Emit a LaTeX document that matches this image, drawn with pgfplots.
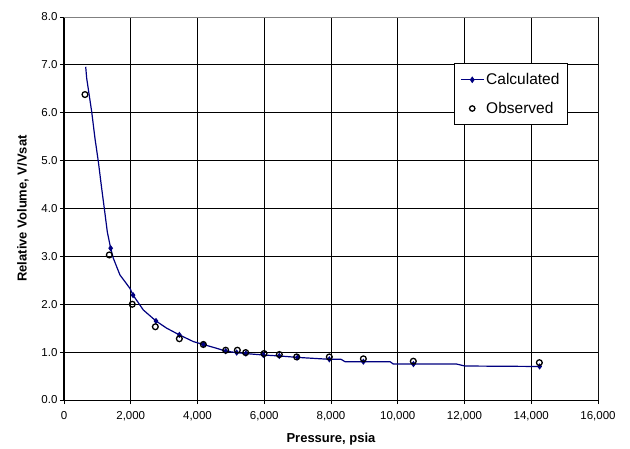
\documentclass[border=0pt]{standalone}
\usepackage{fontspec}
\setmainfont{Liberation Sans}
\usepackage{pgfplots}
\pgfplotsset{compat=1.18}
\definecolor{calcblue}{RGB}{0,0,128}

\begin{document}
\begin{tikzpicture}
\path[use as bounding box] (-64pt,-48pt) rectangle (566pt,400pt);
\begin{axis}[
  at={(0,0)}, anchor=south west,
  scale only axis, width=534pt, height=383pt,
  xmin=0, xmax=16000, ymin=0, ymax=8,
  xtick={0,2000,...,16000}, ytick={0,1,...,8},
  axis lines*=left,
  axis line style={black, line width=1pt},
  grid=major, major grid style={black, line width=0.9pt},
  tick align=outside, major tick length=4pt,
  tick style={black, line width=0.9pt},
  /pgf/number format/assume math mode=true,
  scaled x ticks=false,
  x tick label style={/pgf/number format/fixed, /pgf/number format/1000 sep={,}, yshift=-4pt},
  y tick label style={/pgf/number format/fixed, /pgf/number format/fixed zerofill,
    /pgf/number format/precision=1, xshift=1pt},
  tick label style={font=\fontsize{11.5}{13}\selectfont},
  xlabel={\bfseries Pressure, psia},
  ylabel={\bfseries Relative Volume, V/Vsat},
  label style={font=\fontsize{13}{15}\selectfont},
  xlabel style={yshift=-5pt},
  ylabel style={yshift=6pt},
  legend style={at={(0.730,0.880)}, anchor=north west, draw=black, line width=0.9pt,
    font=\fontsize{15.5}{18}\selectfont, row sep=12pt, inner xsep=6pt, inner ysep=8pt},
  legend cell align=left,
]
\addplot[calcblue, line width=1.2pt, mark=diamond*, mark size=2.2pt,
  mark options={solid, fill=calcblue},
  mark indices={9,13,15,17,19,21,22,23,24,25,26,27,30,33,36},
  legend image code/.code={
    \draw[calcblue, line width=1.2pt] (0cm,0cm) -- (0.8cm,0cm);
    \fill[calcblue] (0.4cm,2.4pt) -- (0.4cm+1.7pt,0cm) -- (0.4cm,-2.4pt) -- (0.4cm-1.7pt,0cm) -- cycle;}]
  coordinates {
  (650,6.96)(680,6.72)(830,6.02)(929,5.46)(1029,4.98)(1129,4.42)(1208,4.00)
  (1298,3.51)(1398,3.17)(1478,2.96)(1678,2.61)(1978,2.33)(2070,2.19)(2377,1.88)
  (2757,1.65)(3077,1.50)(3457,1.36)(3876,1.22)(4175,1.16)(4575,1.08)(4844,1.02)
  (5174,0.99)(5450,0.97)(5973,0.94)(6450,0.92)(7000,0.89)(7950,0.85)(8300,0.85)
  (8420,0.80)(8970,0.80)(9770,0.80)(9870,0.75)(10470,0.75)(11770,0.75)(12010,0.71)
  (14250,0.70)};
\addlegendentry{Calculated}

\addplot[only marks, mark=o, mark size=2.9pt,
  mark options={black, line width=1.3pt, fill=white},
  legend image code/.code={
    \draw[black, line width=1.3pt, fill=white] (0.4cm,0cm) circle (2.7pt);}]
  coordinates {
  (629,6.38)(1358,3.03)(2045,2.00)(2737,1.53)(3456,1.28)(4175,1.16)(4844,1.04)
  (5194,1.04)(5443,0.99)(5993,0.97)(6452,0.95)(6972,0.90)(7950,0.90)(8970,0.86)
  (10466,0.81)(14243,0.78)};
\addlegendentry{Observed}

\draw[gray, line width=1pt] (rel axis cs:0,1) -- (rel axis cs:1,1) -- (rel axis cs:1,0);
\end{axis}
\end{tikzpicture}
\end{document}
